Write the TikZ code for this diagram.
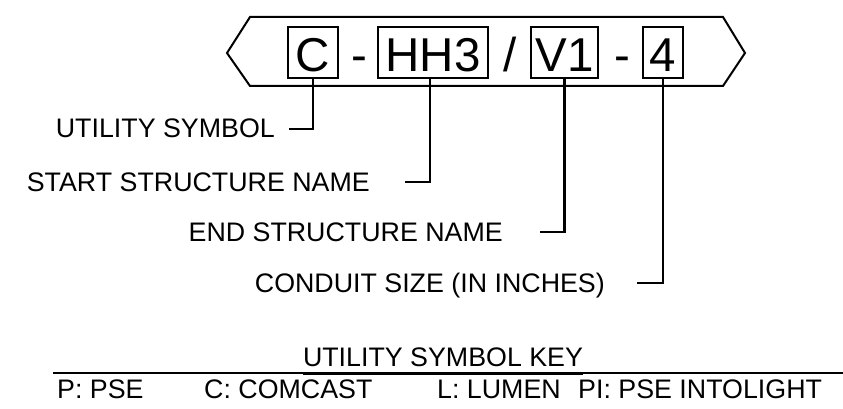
\documentclass[tikz,border=0pt]{standalone}
\usepackage{fontspec}
\setmainfont{Liberation Sans}
\usepackage{tikz}
\usetikzlibrary{positioning,calc}
\tikzset{
ckframe/.style={draw,line width=2pt},
ckfield/.style={rectangle,draw,line width=2pt,inner sep=0pt,minimum height=51pt,text height=39pt,text depth=0pt,font=\fontsize{47.5}{50}\selectfont},
cksep/.style={inner sep=0pt,anchor=base,font=\fontsize{47.5}{50}\selectfont},
cklabel/.style={inner sep=0pt,anchor=base east,font=\fontsize{26.8}{28}\selectfont},
ckkey/.style={inner sep=0pt,anchor=base west,font=\fontsize{26.8}{28}\selectfont},
ckleader/.style={line width=2.4pt},
ckrule/.style={line width=2pt}
}

\begin{document}
\begin{tikzpicture}[x=1pt,y=-1pt]
\useasboundingbox (0,0) rectangle (843,409);
% conduit tag
\draw[ckframe] (227,53) -- (250,17) -- (723,17) -- (745,53) -- (723,86) -- (250,86) -- cycle;
\node[ckfield,minimum width=50pt] (cbox) at (313,52.5) {C};
\node[cksep] (dasha) at (359,72) {-};
\node[ckfield,minimum width=110pt] (hhbox) at (433,52.5) {HH3};
\node[cksep] (slash) at (510,72) {/};
\node[ckfield,minimum width=67pt] (vbox) at (564.5,52.5) {V1};
\node[cksep] (dashb) at (622.5,72) {-};
\node[ckfield,minimum width=40pt] (sizebox) at (663,52.5) {4};
% labels
\node[cklabel] (utillbl) at (275,138) {UTILITY SYMBOL};
\node[cklabel] (startlbl) at (370,191) {START STRUCTURE NAME};
\node[cklabel] (endlbl) at (503,241) {END STRUCTURE NAME};
\node[cklabel] (sizelbl) at (605,292) {CONDUIT SIZE (IN INCHES)};
\draw[ckleader] (cbox.south) |- ([xshift=14pt,yshift=9pt]utillbl.base east);
\draw[ckleader] ([xshift=-3pt]hhbox.south) |- ([xshift=35pt,yshift=9pt]startlbl.base east);
\draw[ckleader] (vbox.south) |- ([xshift=37pt,yshift=9pt]endlbl.base east);
\draw[ckleader] (sizebox.south) |- ([xshift=32pt,yshift=9pt]sizelbl.base east);
% key
\node[cklabel,anchor=base] (keytitle) at (443,366) {UTILITY SYMBOL KEY};
\coordinate (rulea) at (53,373);
\coordinate (ruleb) at (843,373);
\draw[ckrule] (rulea) -- (ruleb);
\draw[ckrule,line width=3pt] (keytitle.base west |- rulea) -- (keytitle.base east |- rulea);
\node[ckkey] (keyp) at (57,398) {P: PSE};
\node[ckkey] (keyc) at (204,398) {C: COMCAST};
\node[ckkey] (keyl) at (437,398) {L: LUMEN};
\node[ckkey] (keypi) at (578,398) {PI: PSE INTOLIGHT};
\end{tikzpicture}
\end{document}
